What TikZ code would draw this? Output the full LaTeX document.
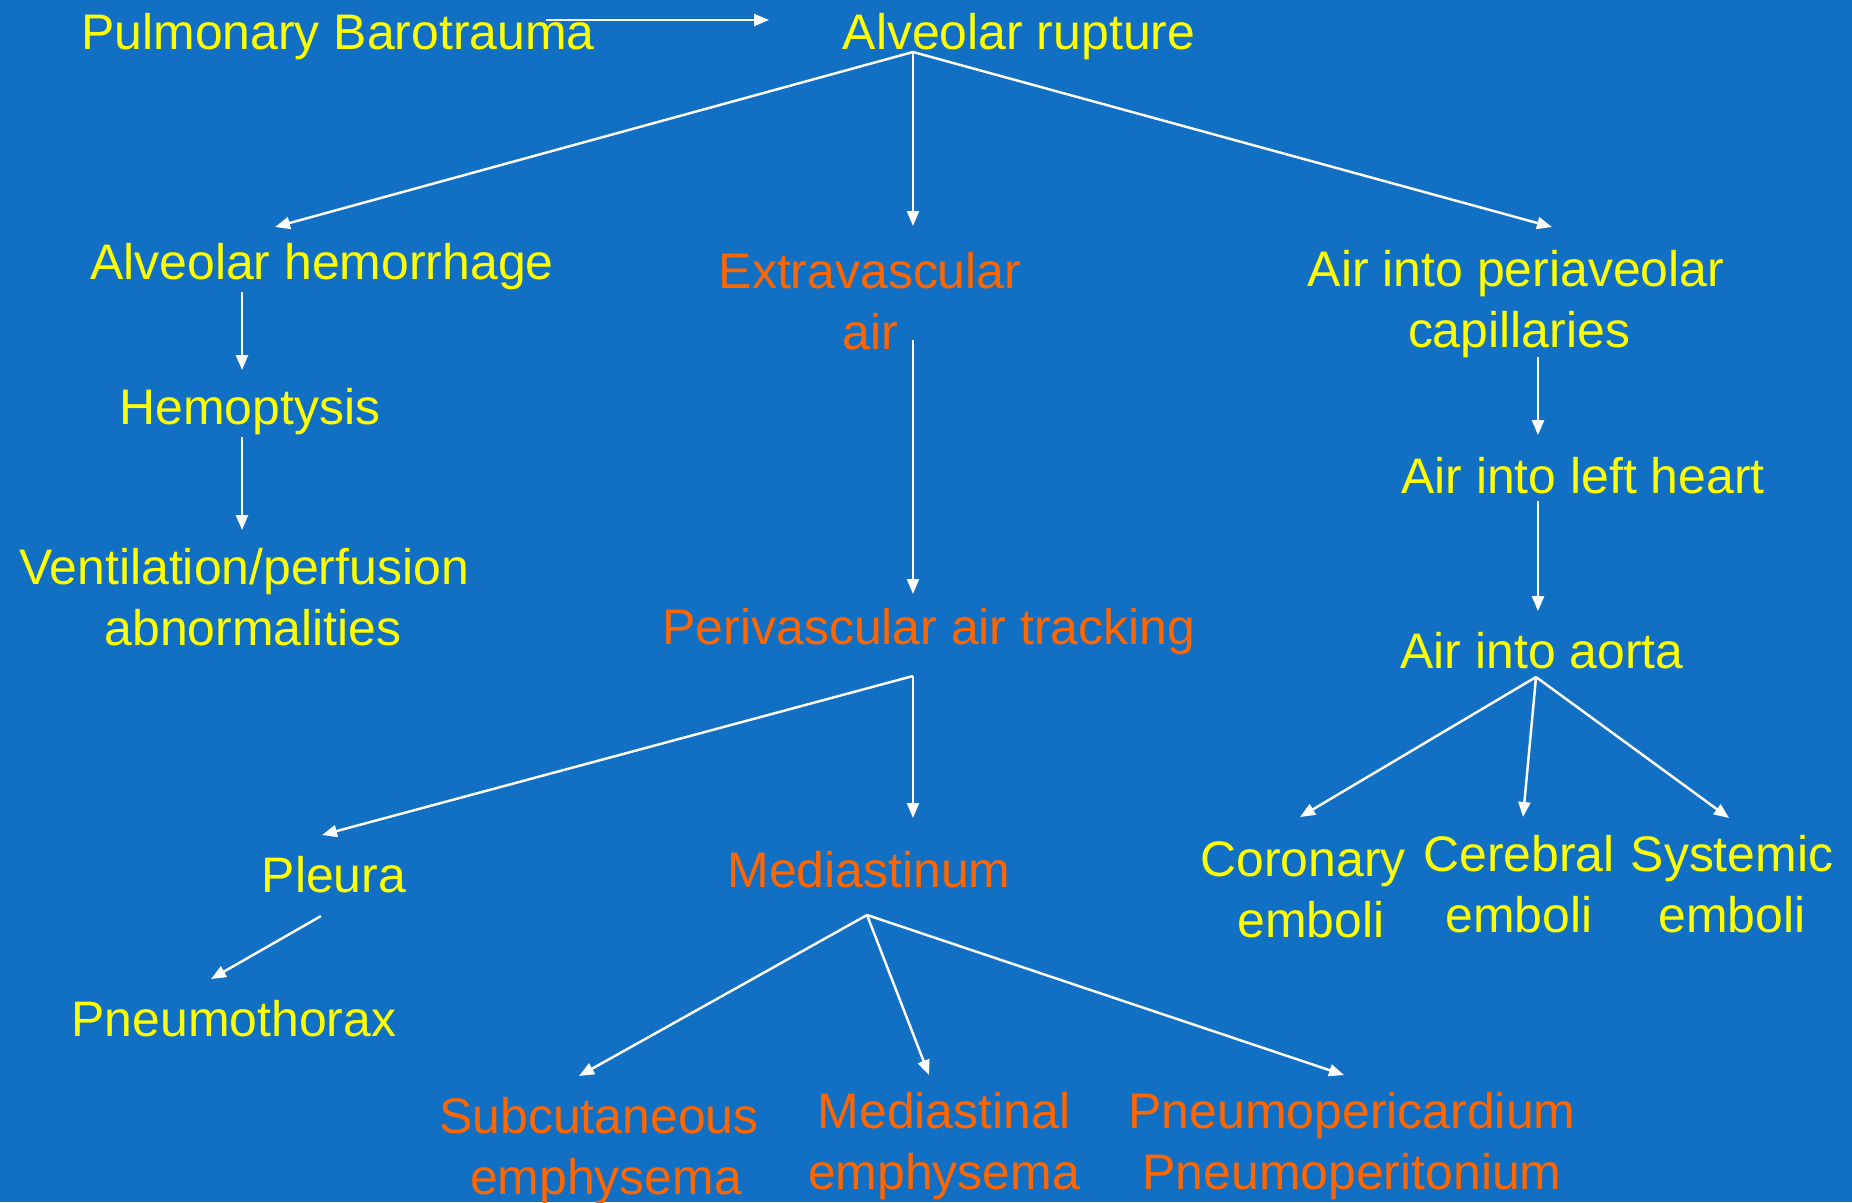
\documentclass[tikz,border=0pt]{standalone}
\usepackage{fontspec}
\setmainfont{Liberation Sans}
\usetikzlibrary{arrows.meta}
\definecolor{bg}{HTML}{1170C4}
\definecolor{ye}{HTML}{FFFF00}
\definecolor{orng}{HTML}{FF6600}
\tikzset{
 lbl/.style={inner sep=0pt, align=center, font=\fontsize{14.2pt}{17.4pt}\selectfont},
 yl/.style={lbl, text=ye},
 ol/.style={lbl, text=orng},
 con/.style={draw=white, line width=0.7pt, -{Triangle[length=0.15cm,width=0.12cm]}},
}
\begin{document}
\begin{tikzpicture}[x=0.01cm,y=-0.01cm]
\fill[bg] (0,0) rectangle (1852,1202);
\useasboundingbox (0,0) rectangle (1852,1202);
% nodes
\node[yl] (pb) at (338,37) {\strut Pulmonary Barotrauma};
\node[yl] (ar) at (1019,37) {\strut Alveolar rupture};
\node[yl] (ah) at (322,267) {\strut Alveolar hemorrhage};
\node[ol] (ea) at (870,307) {\strut Extravascular\\\strut air};
\node[yl] (ap) at (1516,305) {\strut Air into periaveolar\\\strut\hspace{0.06cm}capillaries};
\node[yl] (hp) at (250,412) {\strut Hemoptysis};
\node[yl] (vp) at (244,603) {\strut Ventilation/perfusion\\\strut\hspace{0.18cm}abnormalities};
\node[ol] (pa) at (929,632) {\strut Perivascular air tracking};
\node[yl] (pl) at (334,880) {\strut Pleura};
\node[ol] (md) at (869,875) {\strut Mediastinum};
\node[yl] (pt) at (234,1024) {\strut Pneumothorax};
\node[ol] (se) at (599,1152) {\strut Subcutaneous\\\strut\hspace{0.14cm}emphysema};
\node[ol] (me) at (944,1147) {\strut Mediastinal\\\strut emphysema};
\node[ol] (pp) at (1352,1147) {\strut Pneumopericardium\\\strut Pneumoperitonium};
\node[yl] (lh) at (1583,481) {\strut Air into left heart};
\node[yl] (ao) at (1542,656) {\strut Air into aorta};
\node[yl] (ce) at (1303,895) {\strut Coronary\\\strut\hspace{0.16cm}emboli};
\node[yl] (cb) at (1519,890) {\strut Cerebral\\\strut emboli};
\node[yl] (sy) at (1732,890) {\strut Systemic\\\strut emboli};
% connector points
\coordinate (pbR) at (546,20);
\coordinate (arL) at (769,20);
\coordinate (arB) at (913,52);
\coordinate (ahT) at (275,227);
\coordinate (eaT) at (913,226);
\coordinate (apT) at (1552,227);
\coordinate (ahB) at (242,292);
\coordinate (hpT) at (242,370);
\coordinate (hpB) at (242,437);
\coordinate (vpT) at (242,530);
\coordinate (eaB) at (913,340);
\coordinate (paT) at (913,594);
\coordinate (paB) at (913,676);
\coordinate (plT) at (322,835);
\coordinate (mdT) at (913,818);
\coordinate (plB) at (321,916);
\coordinate (ptT) at (211,979);
\coordinate (mdB) at (867,915);
\coordinate (seT) at (579,1076);
\coordinate (meT) at (929,1075);
\coordinate (ppT) at (1344,1075);
\coordinate (apB) at (1538,357);
\coordinate (lhT) at (1538,435);
\coordinate (lhB) at (1538,501);
\coordinate (aoT) at (1538,611);
\coordinate (aoB) at (1536,677);
\coordinate (ceT) at (1300,817);
\coordinate (cbT) at (1523,817);
\coordinate (syT) at (1729,818);
% connectors
\draw[con] (pbR) -- (arL);
\draw[con] (arB) -- (ahT);
\draw[con] (arB) -- (eaT);
\draw[con] (arB) -- (apT);
\draw[con] (ahB) -- (hpT);
\draw[con] (hpB) -- (vpT);
\draw[con] (eaB) -- (paT);
\draw[con] (paB) -- (plT);
\draw[con] (paB) -- (mdT);
\draw[con] (plB) -- (ptT);
\draw[con] (mdB) -- (seT);
\draw[con] (mdB) -- (meT);
\draw[con] (mdB) -- (ppT);
\draw[con] (apB) -- (lhT);
\draw[con] (lhB) -- (aoT);
\draw[con] (aoB) -- (ceT);
\draw[con] (aoB) -- (cbT);
\draw[con] (aoB) -- (syT);
\end{tikzpicture}
\end{document}
